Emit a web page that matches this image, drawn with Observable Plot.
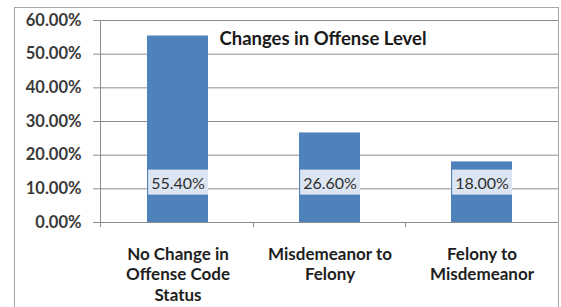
<!DOCTYPE html>
<html><head><meta charset="utf-8">
<script src="https://cdn.jsdelivr.net/npm/d3@7"></script>
<script src="https://cdn.jsdelivr.net/npm/@observablehq/plot@0.6"></script>
<style>
html,body{margin:0;padding:0;background:#fff;}
#wrap{position:relative;width:561px;height:307px;overflow:hidden;}
#border{position:absolute;left:14px;top:7px;width:545px;height:310px;border:1px solid #a6a6a6;box-sizing:border-box;}
#chart svg{position:absolute;left:0;top:0;}
</style></head><body>
<div id="wrap"><div id="border"></div><div id="chart"></div></div>
<script>
const title = "Changes in Offense Level";
const categories = ["No Change in Offense Code Status", "Misdemeanor to Felony", "Felony to Misdemeanor"];
const categoryLines = ["No Change in\nOffense Code\nStatus", "Misdemeanor to\nFelony", "Felony to\nMisdemeanor"];
const values = [55.4, 26.6, 18.0];
const valueLabels = ["55.40%", "26.60%", "18.00%"];
const yTicks = [0, 10, 20, 30, 40, 50, 60];
const yTickLabels = ["0.00%", "10.00%", "20.00%", "30.00%", "40.00%", "50.00%", "60.00%"];

const data = categories.map((c, i) => ({category: c, value: values[i], label: valueLabels[i], lines: categoryLines[i]}));
const lineOf = new Map(categories.map((c, i) => [c, categoryLines[i]]));
const tickLabelOf = new Map(yTicks.map((t, i) => [t, yTickLabels[i]]));

const plot = Plot.plot({
  width: 561, height: 307,
  marginLeft: 100, marginRight: 3, marginTop: 20, marginBottom: 85,
  style: {fontFamily: "Lato, sans-serif", background: "transparent", overflow: "visible"},
  x: {domain: categories, paddingInner: 0.6, paddingOuter: 0.3},
  y: {domain: [0, 60]},
  marks: [
    Plot.gridY(yTicks, {stroke: "#8c8c8c", strokeOpacity: 1}),
    Plot.barY(data, {x: "category", y: "value", fill: "#4f81bd"}),
    Plot.axisY(yTicks, {tickSize: 7, tickPadding: 12, tickFormat: d => tickLabelOf.get(d), fontSize: 16.5, fontWeight: "bold", fill: "#3a3a3a", stroke: "#8c8c8c", label: null}),
    Plot.axisX({tickSize: 0, tickPadding: 23, tickFormat: d => lineOf.get(d), fontSize: 17, fontWeight: "bold", lineHeight: 1.2, fill: "#1e1e1e", label: null}),
    Plot.ruleY([0], {stroke: "#8c8c8c"}),
    Plot.text(data, {x: "category", y: () => 0, dy: -39, text: "label", fontSize: 16, fill: "#2e2e2e"}),
    Plot.text([title], {frameAnchor: "top", dy: 11.5, dx: -6.5, fontSize: 18.5, fontWeight: "bold", fill: "#1a1a1a"})
  ]
});
document.getElementById("chart").appendChild(plot);

const svg = d3.select(plot);
const xs = plot.scale("x");
const ys = plot.scale("y");
const y0 = ys.apply(0);
const gap = xs.step - xs.bandwidth;
const g = svg.append("g").attr("stroke", "#8c8c8c");
// vertical axis line
g.append("line").attr("x1", xs.range[0] + 0.5).attr("x2", xs.range[0] + 0.5)
  .attr("y1", ys.apply(60)).attr("y2", y0 + 5);
// category boundary ticks
categories.slice(0, -1).forEach(c => {
  const bx = xs.apply(c) + xs.bandwidth + gap / 2;
  g.append("line").attr("x1", bx).attr("x2", bx).attr("y1", y0).attr("y2", y0 + 5);
});
// label boxes
svg.selectAll("text").filter(function() { return valueLabels.includes(this.textContent); })
  .each(function() {
    const node = this;
    const b = node.getBBox();
    const r = document.createElementNS("http://www.w3.org/2000/svg", "rect");
    r.setAttribute("x", b.x - 3);
    r.setAttribute("y", b.y - 3);
    r.setAttribute("width", b.width + 6);
    r.setAttribute("height", b.height + 6);
    r.setAttribute("fill", "#dce6f2");
    r.setAttribute("stroke", "none");
    const t = node.getAttribute("transform");
    if (t) r.setAttribute("transform", t);
    node.parentNode.insertBefore(r, node);
  });
</script>
</body></html>
